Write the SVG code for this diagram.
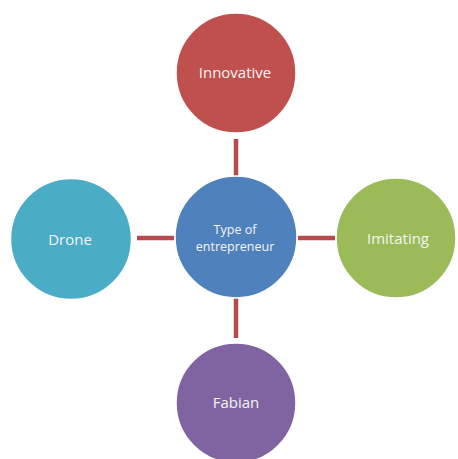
<svg xmlns="http://www.w3.org/2000/svg" width="458" height="459" viewBox="0 0 458 459">
<style>
.node circle{stroke:#ffffff;stroke-width:1.5}
.node text{font-family:"Open Sans","Noto Sans","Liberation Sans",sans-serif;fill:#f4f4f4;text-anchor:middle;font-size:15px}
.center text{font-size:12.5px}
.conn line{stroke:#b84a4e;stroke-width:4.5}
</style>
<rect width="458" height="459" fill="#ffffff"/>
<g id="connectors" class="conn">
<line x1="236" y1="139" x2="236" y2="176"/>
<line x1="236" y1="298" x2="236" y2="338"/>
<line x1="137" y1="238" x2="174" y2="238"/>
<line x1="298" y1="238" x2="335" y2="238"/>
</g>
<g id="center" class="node center">
<circle cx="236" cy="237" r="61" fill="#4f81bd"/>
<text x="235" y="233.5">Type of</text>
<text x="235" y="251">entrepreneur</text>
</g>
<g id="innovative" class="node">
<circle cx="236" cy="73" r="60" fill="#c0504d"/>
<text x="235" y="78">Innovative</text>
</g>
<g id="drone" class="node">
<circle cx="71" cy="239" r="60.5" fill="#4bacc6"/>
<text x="70" y="245">Drone</text>
</g>
<g id="imitating" class="node">
<circle cx="396" cy="238" r="60" fill="#9bbb59"/>
<text x="398" y="244">Imitating</text>
</g>
<g id="fabian" class="node">
<circle cx="236" cy="403" r="60" fill="#8064a2"/>
<text x="236" y="408">Fabian</text>
</g>
</svg>
